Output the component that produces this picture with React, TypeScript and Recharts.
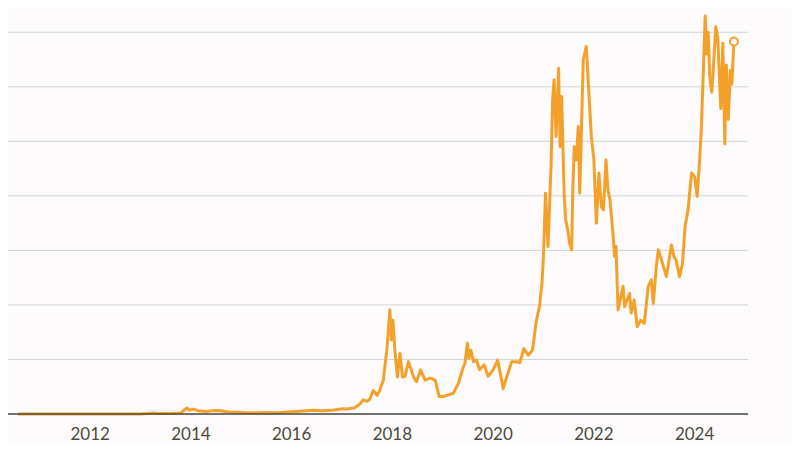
import { LineChart, Line, XAxis, YAxis, CartesianGrid } from 'recharts'

// Bitcoin price (USD)
const years = [
  2010.57, 2011.0, 2011.45, 2011.9, 2012.5, 2013.0, 2013.27, 2013.35, 2013.6, 2013.8,
  2013.92, 2013.97, 2014.05, 2014.15, 2014.3, 2014.45, 2014.6, 2014.75, 2014.95, 2015.05,
  2015.3, 2015.5, 2015.75, 2015.9, 2016.0, 2016.45, 2016.6, 2016.85, 2017.0, 2017.1,
  2017.25, 2017.35, 2017.42, 2017.5, 2017.55, 2017.62, 2017.7, 2017.75, 2017.82, 2017.89,
  2017.95, 2017.98, 2018.01, 2018.05, 2018.1, 2018.15, 2018.2, 2018.25, 2018.32, 2018.42,
  2018.48, 2018.56, 2018.65, 2018.75, 2018.85, 2018.93, 2019.01, 2019.11, 2019.21, 2019.31,
  2019.39, 2019.44, 2019.49, 2019.52, 2019.56, 2019.61, 2019.67, 2019.73, 2019.82, 2019.9,
  2020.0, 2020.09, 2020.2, 2020.27, 2020.37, 2020.47, 2020.53, 2020.61, 2020.7, 2020.78,
  2020.86, 2020.92, 2020.97, 2021.0, 2021.04, 2021.09, 2021.15, 2021.18, 2021.21, 2021.25,
  2021.3, 2021.33, 2021.36, 2021.41, 2021.44, 2021.48, 2021.52, 2021.56, 2021.58, 2021.61,
  2021.65, 2021.69, 2021.72, 2021.79, 2021.85, 2021.89, 2021.95, 2022.0, 2022.05, 2022.1,
  2022.15, 2022.19, 2022.24, 2022.28, 2022.32, 2022.39, 2022.41, 2022.44, 2022.48, 2022.58,
  2022.61, 2022.71, 2022.74, 2022.8, 2022.86, 2022.93, 2023.0, 2023.08, 2023.14, 2023.18,
  2023.24, 2023.28, 2023.34, 2023.44, 2023.54, 2023.59, 2023.63, 2023.7, 2023.76, 2023.81,
  2023.87, 2023.94, 2024.0, 2024.05, 2024.1, 2024.13, 2024.17, 2024.21, 2024.24, 2024.27,
  2024.3, 2024.34, 2024.37, 2024.42, 2024.46, 2024.5, 2024.52, 2024.56, 2024.6, 2024.63,
  2024.67, 2024.71, 2024.74, 2024.78,
]

const prices = [
  0.07, 0.3, 20, 3, 7, 13, 200, 100, 100, 200,
  1100, 700, 900, 600, 450, 620, 580, 380, 320, 220,
  240, 260, 250, 380, 430, 700, 600, 720, 980, 900,
  1150, 1800, 2600, 2300, 2700, 4300, 3400, 4400, 6200, 11700,
  19100, 13600, 17200, 11700, 6800, 11100, 6800, 6900, 9600, 6800,
  5900, 8100, 6200, 6600, 6200, 3200, 3200, 3500, 3800, 5600,
  8100, 9300, 13000, 10200, 11700, 9600, 9900, 8100, 9000, 6900,
  8100, 9900, 4700, 6800, 9600, 9600, 9400, 12000, 10800, 11700,
  17200, 19700, 24000, 29000, 40500, 30700, 45400, 57300, 61300, 50900,
  63400, 49000, 58200, 40500, 35600, 33800, 31300, 30100, 40500, 49000,
  46600, 52700, 40500, 65000, 67400, 60700, 50900, 46600, 35000, 44200,
  38000, 37400, 46600, 41100, 39300, 31900, 28900, 30700, 19100, 23400,
  19700, 22100, 18500, 20900, 16000, 17200, 16600, 23400, 24600, 20300,
  27000, 30100, 28300, 25200, 31000, 28900, 28300, 25200, 27600, 34400,
  37400, 44200, 43500, 39900, 46600, 51500, 62000, 73000, 66000, 70000,
  62000, 59000, 63000, 71000, 69000, 60000, 56000, 68000, 49500, 64000,
  54000, 63000, 60500, 68300,
]

const yearTicks = [2012, 2014, 2016, 2018, 2020, 2022, 2024]
const priceTicks = [0, 10000, 20000, 30000, 40000, 50000, 60000, 70000]

const data = years.map((t, i) => ({ t, price: prices[i] }))

const ORANGE = '#f4a12c'

// only the latest point gets an open circle
function EndDot(props: { cx?: number; cy?: number; index?: number }) {
  const { cx, cy, index } = props
  if (index !== data.length - 1 || cx == null || cy == null) return <g key={`d${index}`} />
  return <circle key="end" cx={cx} cy={cy} r={4} fill="#fdfbfb" stroke={ORANGE} strokeWidth={2} />
}

export default function App() {
  return (
    <div style={{ width: 800, height: 450, background: '#fdfbfb', margin: -8 }}>
      <LineChart width={800} height={450} data={data} margin={{ top: 5, right: 52, bottom: 0, left: 3 }}>
        <CartesianGrid vertical={false} stroke="#d4d4d4" strokeWidth={1} />
        <YAxis hide domain={[0, 75000]} ticks={priceTicks} />
        <XAxis
          type="number"
          dataKey="t"
          domain={[2010.27, 2025.06]}
          ticks={yearTicks}
          tickFormatter={(v) => String(v)}
          height={36}
          tickSize={0}
          tickMargin={14}
          axisLine={{ stroke: '#4a4a44', strokeWidth: 1.5 }}
          tickLine={false}
          tick={{ fill: '#4b4a3c', fontSize: 17, fontFamily: 'Lato' }}
        />
        <Line
          type="linear"
          dataKey="price"
          stroke={ORANGE}
          strokeWidth={3}
          strokeLinejoin="round"
          dot={<EndDot />}
          activeDot={false}
          isAnimationActive={false}
        />
      </LineChart>
    </div>
  )
}
